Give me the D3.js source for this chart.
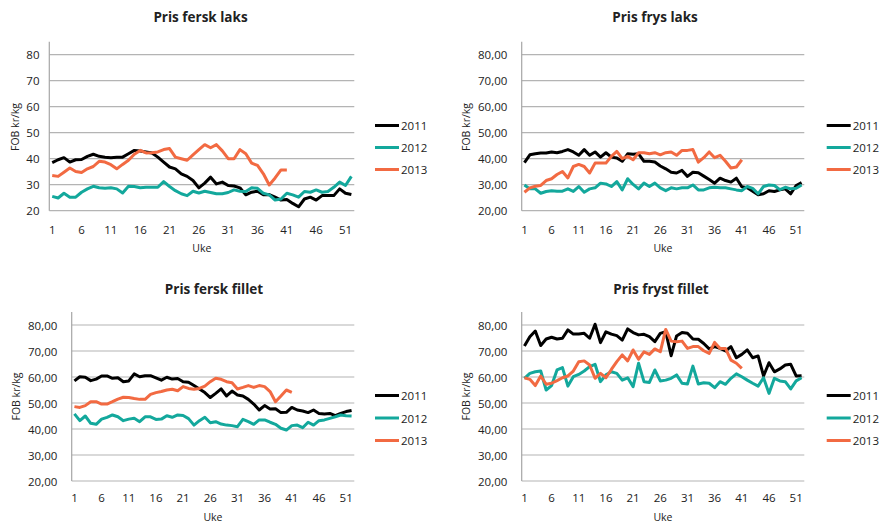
<!DOCTYPE html>
<html>
<head>
<meta charset="utf-8">
<script src="https://cdn.jsdelivr.net/npm/d3@7"></script>
<style>
  html, body { margin: 0; padding: 0; background: #ffffff; }
  svg { display: block; }
  text { font-family: "Open Sans", "Liberation Sans", sans-serif; fill: #222; }
</style>
</head>
<body>
<svg id="chart" width="880" height="524"></svg>
<script>
// ---------- DATA ----------
const weeks = [1,2,3,4,5,6,7,8,9,10,11,12,13,14,15,16,17,18,19,20,21,22,23,24,25,26,
               27,28,29,30,31,32,33,34,35,36,37,38,39,40,41,42,43,44,45,46,47,48,49,50,51,52];
const xTickLabels = ["1","6","11","16","21","26","31","36","41","46","51"];
const yTickValues = [20,30,40,50,60,70,80];
const seriesNames = ["2011","2012","2013"];
const titles = ["Pris fersk laks","Pris frys laks","Pris fersk fillet","Pris fryst fillet"];
const yAxisTitle = "FOB kr/kg";
const xAxisTitle = "Uke";

// Pris fersk laks
const ferskLaks2011 = [38.5,39.6,40.4,38.7,39.6,39.7,40.9,41.7,40.9,40.6,40.4,40.6,40.6,41.9,43.2,43.0,42.6,42.2,40.6,38.7,
  36.8,36.1,34.2,33.2,31.6,28.8,30.6,32.9,30.3,31.0,29.7,29.5,28.8,26.1,27.1,27.5,26.1,26.2,25.2,24.1,
  24.3,22.8,21.5,24.5,25.2,24.1,25.8,25.8,25.8,28.4,26.7,26.2];
const ferskLaks2012 = [25.5,24.9,26.7,25.2,25.2,27.1,28.4,29.4,28.8,28.6,28.8,28.4,26.8,29.4,29.3,28.8,29.0,29.0,29.0,31.2,
  29.3,27.7,26.5,25.8,27.5,26.8,27.5,27.0,26.5,26.5,27.0,28.0,27.5,27.4,28.8,28.6,26.7,26.1,24.1,24.5,
  26.7,26.1,25.2,27.4,27.1,28.0,27.1,27.4,29.0,31.0,29.7,33.2];
const ferskLaks2013 = [33.5,33.2,34.8,36.4,35.1,34.7,36.1,37.0,39.0,38.7,37.7,36.1,37.8,39.4,41.7,43.2,42.2,42.3,42.6,43.5,
  43.9,40.6,40.0,39.4,41.5,43.5,45.4,44.2,45.4,43.0,40.0,40.0,43.5,41.9,38.3,37.4,34.2,29.9,32.6,35.7,35.7];

// Pris frys laks
const frysLaks2011 = [38.5,41.5,41.9,42.2,42.2,42.6,42.3,42.8,43.5,42.6,41.3,43.5,41.3,42.6,40.6,42.3,40.6,40.3,39.0,41.9,
  41.7,41.9,39.0,39.0,38.7,37.2,36.1,34.8,34.5,35.5,33.2,34.8,34.6,33.3,32.0,30.6,32.5,31.6,31.0,32.5,
  29.2,28.8,27.5,26.1,26.5,27.7,27.4,28.0,28.4,26.5,29.7,30.8];
const frysLaks2012 = [29.9,28.4,28.4,26.7,27.4,27.7,27.5,27.5,28.4,27.4,29.3,27.1,28.4,28.8,30.6,30.3,29.3,31.2,28.0,32.3,
  30.1,28.4,30.6,29.3,30.6,28.8,27.7,28.8,28.4,28.8,28.8,29.9,28.0,28.0,28.8,29.0,28.8,28.8,28.4,28.0,
  27.7,29.3,28.6,26.5,29.3,29.9,29.7,28.1,29.0,28.4,28.6,29.9];
const frysLaks2013 = [27.1,28.8,29.4,29.7,31.6,32.3,33.9,35.1,32.6,37.0,37.8,37.0,34.5,38.3,38.3,38.3,40.9,42.8,40.0,40.9,
  39.6,42.3,42.3,41.9,42.3,41.5,42.3,42.6,41.3,43.2,43.2,43.5,38.7,40.4,42.6,40.4,41.3,39.0,36.4,36.8,39.6];

// Pris fersk fillet
const ferskFillet2011 = [58.5,60.1,59.9,58.6,59.2,60.4,60.4,59.5,59.7,58.2,58.5,61.2,60.1,60.5,60.5,59.7,58.8,59.9,59.2,59.4,
  58.2,58.0,56.7,55.4,54.0,52.1,53.7,55.4,52.7,54.6,53.1,52.7,51.4,49.6,47.3,49.0,47.7,47.8,46.3,46.4,
  48.3,47.3,46.9,46.3,47.3,46.0,45.8,46.0,45.1,46.0,46.7,47.1];
const ferskFillet2012 = [45.8,43.2,45.0,42.2,41.8,43.8,44.5,45.4,44.7,43.2,43.8,44.1,42.8,44.7,44.7,43.7,43.8,45.1,44.5,45.4,
  45.2,44.0,41.5,43.2,44.5,42.4,42.8,41.9,41.5,41.3,40.9,43.7,42.8,41.8,43.5,43.5,42.6,41.8,40.3,39.6,
  41.3,41.5,40.5,42.6,41.5,43.2,43.5,44.1,44.7,45.4,45.1,45.0];
const ferskFillet2013 = [48.6,48.3,49.0,50.5,50.5,49.6,49.6,50.5,51.5,52.2,52.1,51.7,51.4,51.4,53.3,54.0,54.4,55.0,55.3,54.7,
  56.3,55.6,55.3,55.6,56.5,58.2,59.5,59.1,58.2,57.8,55.4,56.0,56.7,56.0,56.7,56.3,54.4,50.5,52.7,55.0,54.1];

// Pris fryst fillet
const frystFillet2011 = [71.9,75.5,77.7,72.1,74.6,75.3,74.6,74.9,78.1,76.5,76.5,76.8,74.9,80.3,73.2,77.4,76.5,75.9,74.2,78.5,
  77.1,76.2,76.4,75.5,73.6,76.8,77.4,68.2,75.8,77.1,76.8,74.6,74.5,72.9,70.8,71.7,71.0,70.0,71.7,67.4,
  68.7,70.4,67.4,68.1,60.4,65.5,62.0,63.1,64.6,64.9,60.4,60.5];
const frystFillet2012 = [59.5,61.4,62.0,62.3,55.0,56.7,62.7,63.6,56.5,60.1,61.0,62.3,64.0,64.9,58.2,60.8,62.0,61.4,58.8,59.7,
  56.3,65.3,58.2,57.9,62.7,58.5,58.8,59.5,60.8,57.6,57.3,64.2,57.3,57.8,57.6,55.9,58.2,57.2,59.5,61.2,
  60.1,58.8,57.6,56.5,59.7,53.7,59.5,58.5,58.2,55.4,58.5,59.7];
const frystFillet2013 = [59.7,59.1,56.7,60.4,57.2,57.6,58.6,59.7,60.4,62.3,65.9,66.2,64.6,59.5,61.4,59.7,62.9,65.9,68.5,66.2,
  70.4,66.8,69.7,68.7,70.8,69.7,78.3,73.8,73.6,73.8,71.0,71.7,71.7,70.1,69.1,73.3,71.0,71.0,66.5,65.3,63.3];

const panelSeries = [
  [ferskLaks2011, ferskLaks2012, ferskLaks2013],
  [frysLaks2011, frysLaks2012, frysLaks2013],
  [ferskFillet2011, ferskFillet2012, ferskFillet2013],
  [frystFillet2011, frystFillet2012, frystFillet2013]
];

// ---------- LAYOUT / STYLE ----------
const colors = ["#000000", "#13a89c", "#f26a42"];
const panels = [
  { left: 49.3,  right: 354.3, top: 54.7, bottom: 210.7, decimals: 0, yLabX: 39.5,  yTitleX: 15,  yTitleY: 127, xLabY: 229,   xTitleY: 247.5, titleX: 200.5, titleY: 17,  legLineX: 375, legY: [125.5,147.5,169.5] },
  { left: 521.7, right: 804.3, top: 54.7, bottom: 210.7, decimals: 2, yLabX: 507.3, yTitleX: 466, yTitleY: 127, xLabY: 229,   xTitleY: 247.5, titleX: 655, titleY: 17,  legLineX: 826.7, legY: [125.5,147.5,169.5] },
  { left: 71.7,  right: 354.3, top: 325,  bottom: 481,   decimals: 2, yLabX: 57.3,  yTitleX: 16,  yTitleY: 396.5, xLabY: 497.3, xTitleY: 517, titleX: 214, titleY: 289, legLineX: 375, legY: [395.5,418,440.5] },
  { left: 521.7, right: 804.3, top: 325,  bottom: 481,   decimals: 2, yLabX: 507.3, yTitleX: 466, yTitleY: 396.5, xLabY: 497.3, xTitleY: 517, titleX: 661, titleY: 289, legLineX: 826.7, legY: [395.5,418,440.5] }
];

const svg = d3.select("#chart");
const fmt2 = v => d3.format(".2f")(v).replace(".", ",");

panels.forEach((p, i) => {
  const g = svg.append("g");
  const x = d3.scalePoint().domain(weeks).range([p.left, p.right]).padding(0.5);
  const y = d3.scaleLinear().domain([20, 80]).range([p.bottom, p.top]);

  // gridlines
  g.selectAll("line.grid").data(yTickValues).enter().append("line")
    .attr("x1", p.left).attr("x2", p.right)
    .attr("y1", d => y(d)).attr("y2", d => y(d))
    .attr("stroke", "#b4b4b4").attr("stroke-width", 1.2);

  // vertical axis line
  g.append("line")
    .attr("x1", p.left).attr("x2", p.left)
    .attr("y1", y(80) - 13).attr("y2", p.bottom)
    .attr("stroke", "#a6a6a6").attr("stroke-width", 1.2);

  // y tick labels
  g.selectAll("text.ylab").data(yTickValues).enter().append("text")
    .attr("x", p.yLabX).attr("y", d => y(d))
    .attr("text-anchor", "end").attr("dominant-baseline", "central")
    .attr("font-size", 11.5)
    .text(d => p.decimals ? fmt2(d) : d);

  // x tick labels
  g.selectAll("text.xlab").data(xTickLabels).enter().append("text")
    .attr("x", d => x(+d)).attr("y", p.xLabY)
    .attr("text-anchor", "middle").attr("dominant-baseline", "central")
    .attr("font-size", 11.5)
    .text(d => d);

  // axis titles
  g.append("text")
    .attr("transform", `translate(${p.yTitleX},${p.yTitleY}) rotate(-90)`)
    .attr("text-anchor", "middle").attr("dominant-baseline", "central")
    .attr("font-size", 10.5).text(yAxisTitle);
  g.append("text")
    .attr("x", (p.left + p.right) / 2).attr("y", p.xTitleY)
    .attr("text-anchor", "middle").attr("dominant-baseline", "central")
    .attr("font-size", 10.5).text(xAxisTitle);

  // title
  g.append("text")
    .attr("x", p.titleX).attr("y", p.titleY)
    .attr("text-anchor", "middle").attr("dominant-baseline", "central")
    .attr("font-size", 13.5).attr("font-weight", "bold").text(titles[i]);

  // lines
  const line = d3.line().x((d, j) => x(weeks[j])).y(d => y(d));
  panelSeries[i].forEach((vals, s) => {
    g.append("path").datum(vals)
      .attr("d", line)
      .attr("fill", "none")
      .attr("stroke", colors[s])
      .attr("stroke-width", 3)
      .attr("stroke-linejoin", "round")
      .attr("stroke-linecap", "butt");
  });

  // legend
  seriesNames.forEach((name, s) => {
    g.append("line")
      .attr("x1", p.legLineX).attr("x2", p.legLineX + 24)
      .attr("y1", p.legY[s]).attr("y2", p.legY[s])
      .attr("stroke", colors[s]).attr("stroke-width", 3);
    g.append("text")
      .attr("x", p.legLineX + 26).attr("y", p.legY[s])
      .attr("dominant-baseline", "central")
      .attr("font-size", 11.5).text(name);
  });
});
</script>
</body>
</html>
